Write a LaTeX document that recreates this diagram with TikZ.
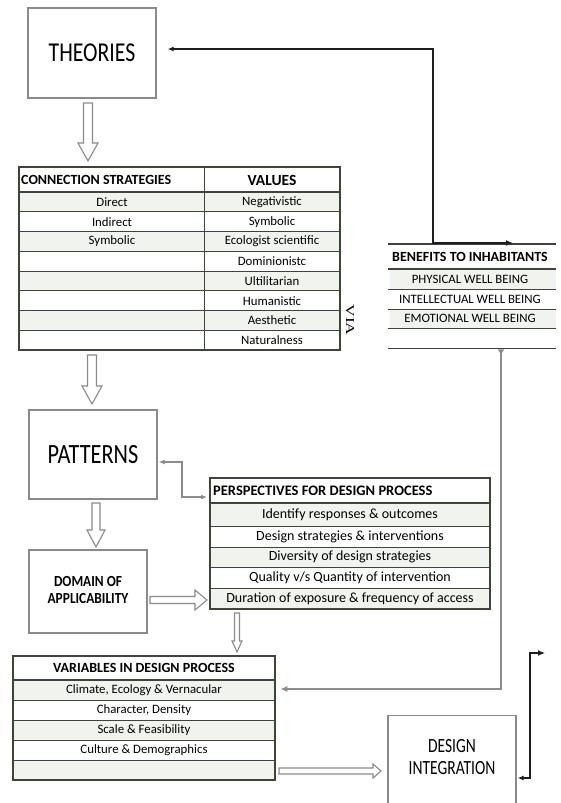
\documentclass[tikz,border=0pt]{standalone}
\usepackage{fontspec}
\usepackage{graphicx}
\setmainfont{Carlito}
\newfontfamily\viafont{Liberation Serif}
\usetikzlibrary{arrows.meta,calc}
\definecolor{boxgray}{HTML}{8A8A8A}
\definecolor{tabline}{HTML}{3C4538}
\definecolor{rowfill}{HTML}{F1F4EE}
\definecolor{conngray}{HTML}{8C8C8C}
\definecolor{blk}{HTML}{1E1E1E}
\newcommand\ystr[2]{\scalebox{1}[#1]{#2}}
% hollow arrows: x, ytop, ytip, shaft half width, head half width, head length
\newcommand\hollowdown[6]{%
  \draw[hollow] (#1-#4,#2) -- (#1+#4,#2) -- (#1+#4,#3-#6) -- (#1+#5,#3-#6) -- (#1,#3)
    -- (#1-#5,#3-#6) -- (#1-#4,#3-#6) -- cycle;}
% y, xstart, xtip, shaft half, head half, head length
\newcommand\hollowright[6]{%
  \draw[hollow] (#2,#1-#4) -- (#2,#1+#4) -- (#3-#6,#1+#4) -- (#3-#6,#1+#5) -- (#3,#1)
    -- (#3-#6,#1-#5) -- (#3-#6,#1-#4) -- cycle;}
\begin{document}
\begin{tikzpicture}[x=1pt,y=-1pt,
  box/.style={draw=boxgray,line width=1.4pt,fill=white,inner sep=0pt},
  frame/.style={draw=tabline,line width=1.3pt,inner sep=0pt,anchor=north west},
  tline/.style={draw=tabline,line width=0.9pt},
  thead/.style={draw=tabline,line width=1.6pt},
  cell/.style={inner sep=0pt,font=\fontsize{12.8}{14}\selectfont},
  pcell/.style={inner sep=0pt,font=\fontsize{14}{15}\selectfont},
  hcell/.style={inner sep=0pt,font=\bfseries\fontsize{14}{15}\selectfont},
  hollow/.style={draw=boxgray,line width=1.1pt,fill=white,line join=miter},
  gcon/.style={draw=conngray,line width=1.5pt},
  bcon/.style={draw=blk,line width=1.2pt}]
\useasboundingbox (0,0) rectangle (560,803);
\clip (0,0) rectangle (560,803);

% ---------- boxes
\node[box,minimum width=128pt,minimum height=90pt] (theo) at (92,53)
  {\ystr{1.25}{\fontsize{21.8}{24}\selectfont THEORIES}};
\node[box,minimum width=128pt,minimum height=89pt] (patt) at (93,454.5)
  {\ystr{1.25}{\fontsize{22.3}{24}\selectfont PATTERNS}};
\node[box,minimum width=118pt,minimum height=83pt] (dom) at (88,591.5)
  {\ystr{1.15}{\bfseries\fontsize{13.4}{15.5}\selectfont\begin{tabular}{@{}c@{}}DOMAIN OF\\APPLICABILITY\end{tabular}}};
\node[box,anchor=north,minimum width=128pt,minimum height=110pt] (desi) at (452,715) {};
\node[inner sep=0pt] (desitxt) at (452,759)
  {\ystr{1.3}{\fontsize{15.5}{17}\selectfont\begin{tabular}{@{}c@{}}DESIGN\\INTEGRATION\end{tabular}}};

% ---------- connection strategies / values table
\node[frame,minimum width=321pt,minimum height=183pt] (conn) at (19,167) {};
\foreach \i in {0,2,4,6}{
  \fill[rowfill] (19,{192+\i*19.75}) rectangle (340,{192+(\i+1)*19.75});}
\foreach \i in {1,...,7}{
  \draw[tline] (19,{192+\i*19.75}) -- (340,{192+\i*19.75});}
\draw[thead] (19,192) -- (340,192);
\draw[tline] (204,167) -- (204,350);
\draw[frame] (19,167) rectangle (340,350);
\node[hcell,anchor=west] (connh) at (21,180) {CONNECTION STRATEGIES};
\node[inner sep=0pt,font=\bfseries\fontsize{15.5}{17}\selectfont] (valh) at (272,180) {VALUES};
\foreach \t [count=\i] in {Direct,Indirect,Symbolic}{
  \node[cell] (c\i) at (112,{192+(\i-0.5)*19.75}) {\t};}
\foreach \t [count=\i] in {Negativistic,Symbolic,Ecologist scientific,Dominionistc,Ultilitarian,Humanistic,Aesthetic,Naturalness}{
  \node[cell] (v\i) at (272,{192+(\i-0.5)*19.75}) {\t};}
\node[inner sep=0pt,rotate=-90,font=\viafont\fontsize{12}{14}\selectfont] (via) at (350,320)
  {\scalebox{1.45}[1]{VIA}};

% ---------- benefits table
\node[inner sep=0pt,anchor=north west,minimum width=168pt,minimum height=104pt] (benef) at (388,244) {};
\fill[rowfill] (390,269) rectangle (556,289);
\fill[rowfill] (390,309) rectangle (556,328);
\draw[thead] (388,244) -- (556,244);
\draw[thead] (388,269) -- (556,269);
\foreach \yy in {289,309,328,348}{\draw[tline] (388,\yy) -- (556,\yy);}
\node[hcell] (benh) at (470,257) {BENEFITS TO INHABITANTS};
\node[cell] (b1) at (470,279) {PHYSICAL WELL BEING};
\node[cell] (b2) at (470,299) {INTELLECTUAL WELL BEING};
\node[cell] (b3) at (470,318.5) {EMOTIONAL WELL BEING};

% ---------- perspectives table
\node[frame,minimum width=280pt,minimum height=131pt] (persp) at (210,478) {};
\foreach \a/\b in {503/526,547/567,588/609}{\fill[rowfill] (210,\a) rectangle (490,\b);}
\foreach \yy in {526,547,567,588}{\draw[tline] (210,\yy) -- (490,\yy);}
\draw[thead] (210,503) -- (490,503);
\draw[frame] (210,478) rectangle (490,609);
\node[inner sep=0pt,anchor=west,font=\bfseries\fontsize{14.5}{16}\selectfont] (persph) at (213,490.5) {PERSPECTIVES FOR DESIGN PROCESS};
\node[pcell] (p1) at (350,514.5) {Identify responses \& outcomes};
\node[pcell] (p2) at (350,536.5) {Design strategies \& interventions};
\node[pcell] (p3) at (350,557) {Diversity of design strategies};
\node[pcell] (p4) at (350,577.5) {Quality v/s Quantity of intervention};
\node[pcell] (p5) at (350,598.5) {Duration of exposure \& frequency of access};

% ---------- variables table
\node[frame,minimum width=262pt,minimum height=124pt] (vars) at (13,656) {};
\foreach \a/\b in {680/700,720/740,760/780}{\fill[rowfill] (13,\a) rectangle (275,\b);}
\foreach \yy in {700,720,740,760}{\draw[tline] (13,\yy) -- (275,\yy);}
\draw[thead] (13,680) -- (275,680);
\draw[frame] (13,656) rectangle (275,780);
\node[inner sep=0pt,font=\bfseries\fontsize{14}{16}\selectfont] (varh) at (144,668) {VARIABLES IN DESIGN PROCESS};
\node[cell] (r1) at (144,690) {Climate, Ecology \& Vernacular};
\node[cell] (r2) at (144,710) {Character, Density};
\node[cell] (r3) at (144,730) {Scale \& Feasibility};
\node[cell] (r4) at (144,750) {Culture \& Demographics};

% ---------- hollow arrows
\hollowdown{88}{103}{161}{4.5}{10}{18}
\hollowdown{92}{355}{404}{4.5}{10}{18}
\hollowdown{96}{503}{547}{4}{9}{17}
\hollowright{600}{150}{207}{3.5}{10}{12}
\hollowdown{237}{613}{652}{2.5}{5}{11}
\hollowright{771}{279}{381}{3}{7}{8}

% ---------- connectors
\coordinate (tA) at ($(theo.east)+(11,-4)$);
\coordinate (bA) at ($(benef.north west)+(125,-1)$);
\draw[bcon,{Latex[length=6pt,width=5pt]}-{Latex[length=7pt,width=6pt]}]
  (tA) -- (433,49) -- (433,243) -- (bA);

\coordinate (pA) at ($(patt.east)+(1,7.5)$);
\coordinate (pB) at ($(persp.north west)+(-3,19)$);
\draw[gcon,{Latex[length=6pt,width=5pt]}-{Latex[length=6pt,width=5pt]}]
  (pA) -- (182,462) -- (182,497) -- (pB);

\coordinate (gA) at ($(benef.south west)+(113,1)$);
\coordinate (gB) at ($(vars.east |- r1)+(4,-1)$);
\draw[gcon,{Triangle[reversed,length=5pt,width=6pt]}-{Latex[length=7pt,width=6pt]}]
  (gA) -- (501,689) -- (gB);

\coordinate (dA) at ($(desi.east |- 0,778)+(1,0)$);
\coordinate (dB) at (545,653);
\draw[bcon,{Latex[length=6pt,width=5pt]}-{Latex[length=7pt,width=6pt]}]
  (dA) -- (530,778) -- (530,653) -- (dB);
\end{tikzpicture}
\end{document}
